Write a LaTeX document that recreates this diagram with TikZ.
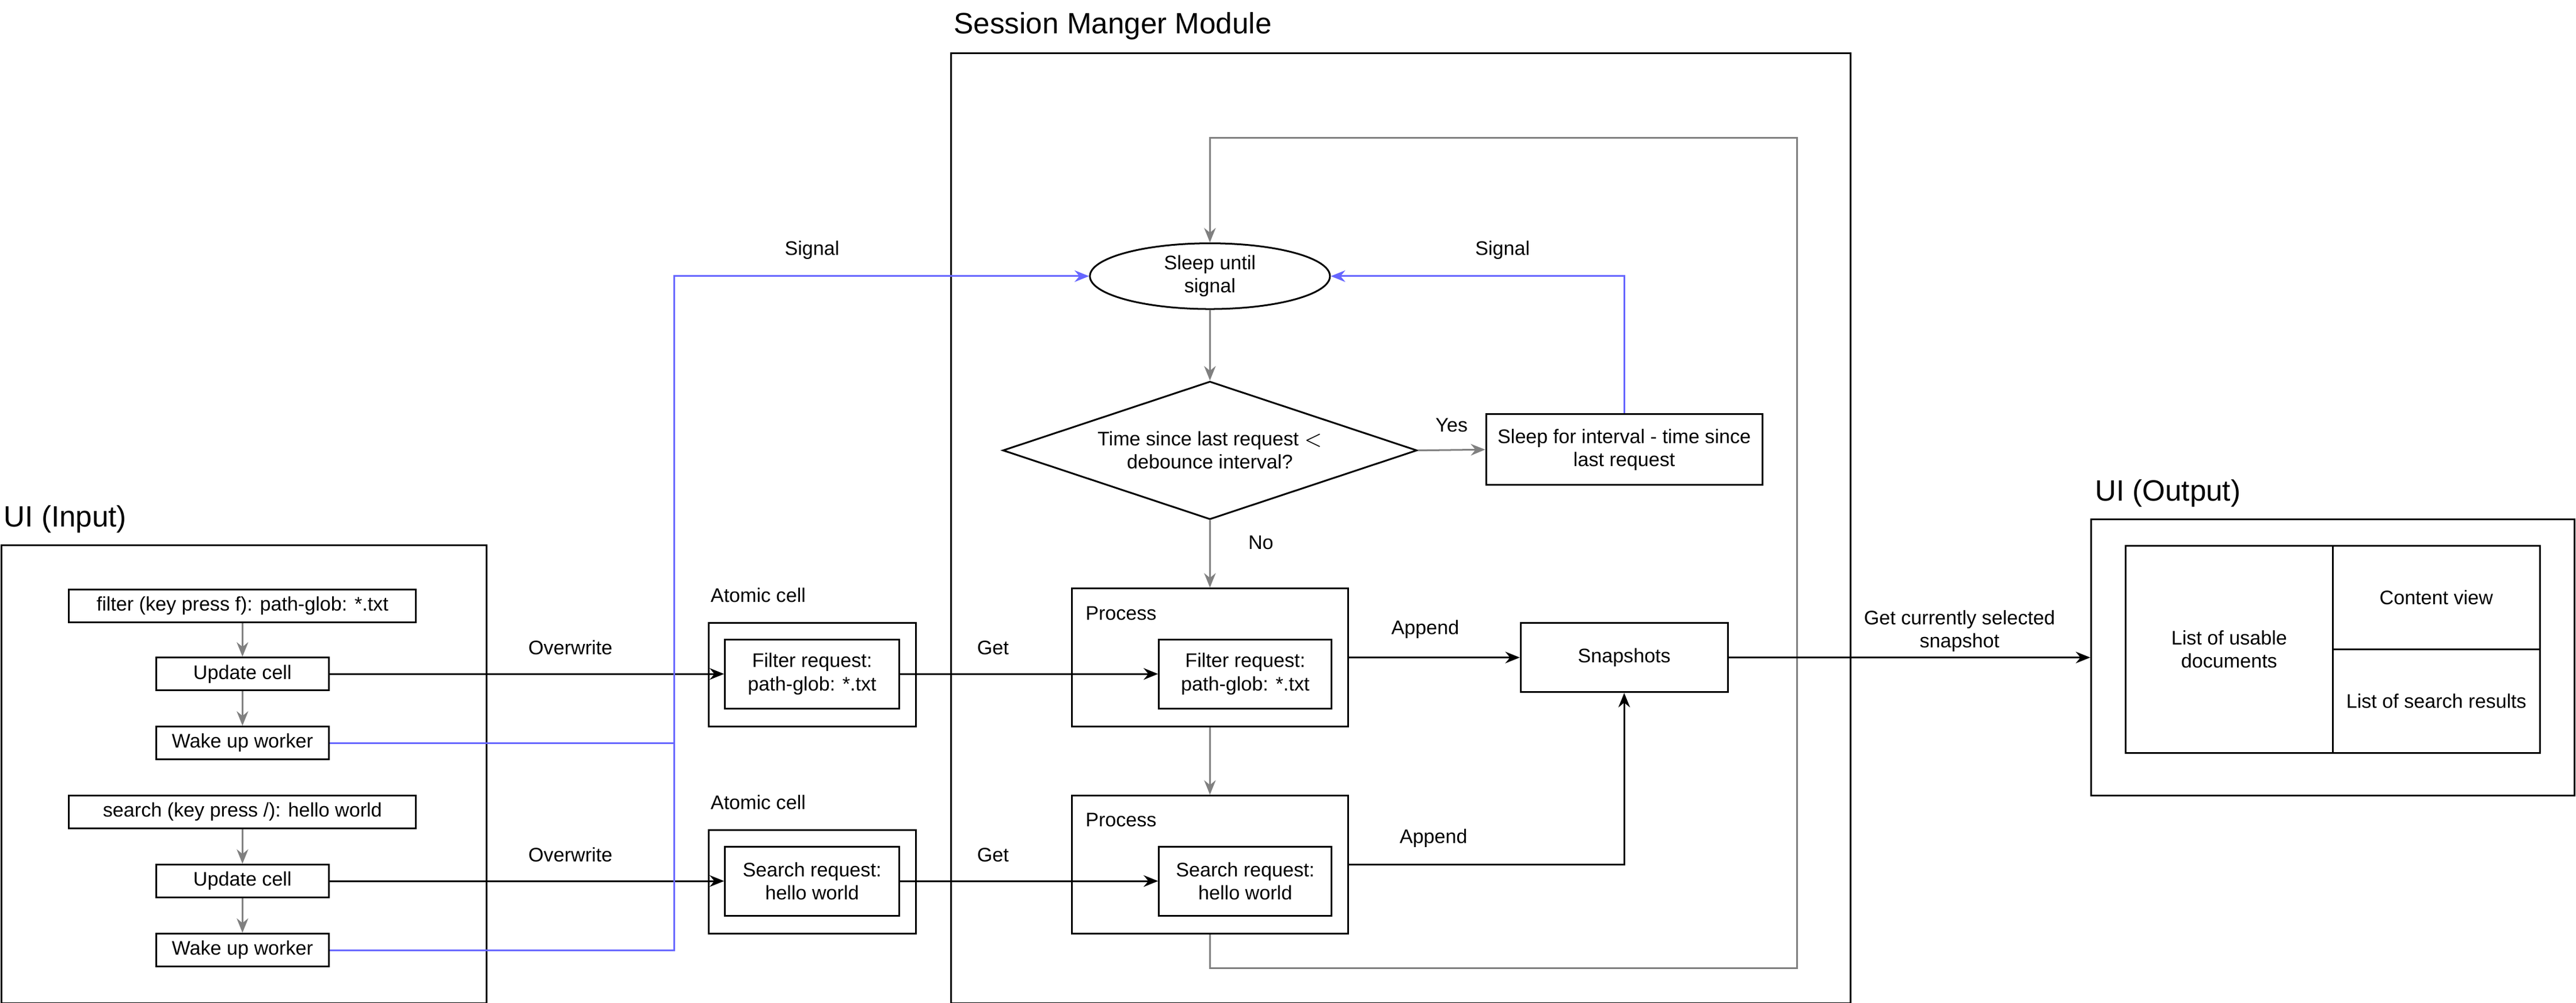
\documentclass[tikz,border=0pt]{standalone}
\usepackage{fontspec}
\setmainfont{Liberation Sans}
\usetikzlibrary{arrows.meta,shapes.geometric}
\definecolor{sig}{RGB}{102,102,255}
\definecolor{gr}{RGB}{128,128,128}
\begin{document}
\begin{tikzpicture}[x=0.02cm,y=-0.02cm,
  every node/.style={font=\fontsize{6.8}{8}\selectfont,inner sep=0pt},
  bx/.style={draw,line width=0.6pt,align=center},
  ttl/.style={font=\fontsize{10.2}{12}\selectfont,anchor=west},
  lbl/.style={anchor=center},
  ga/.style={draw=gr,line width=0.6pt,-{Stealth[length=5pt,width=4pt]}},
  ba/.style={draw=black,line width=0.6pt,-{Stealth[length=5pt,width=4pt]}},
  sa/.style={draw=sig,line width=0.6pt,-{Stealth[length=5pt,width=4pt]}},
  sl/.style={draw=sig,line width=0.6pt}]
\useasboundingbox (0,0) rectangle (1567,610);
% UI Input
\node[bx,minimum width=295*0.02cm,minimum height=279*0.02cm,anchor=north west] (uin) at (0.5,331) {};
\node[ttl] (uint) at (2,316) {UI (Input)};
\node[bx,minimum width=211*0.02cm,minimum height=20*0.02cm] (flt) at (147.5,368.5) {filter (key press f): path-glob: *.txt};
\node[bx,minimum width=105*0.02cm,minimum height=20*0.02cm] (uc1) at (147.5,410) {Update cell};
\node[bx,minimum width=105*0.02cm,minimum height=20*0.02cm] (wk1) at (147.5,452) {Wake up worker};
\node[bx,minimum width=211*0.02cm,minimum height=20*0.02cm] (src) at (147.5,494) {search (key press /): hello world};
\node[bx,minimum width=105*0.02cm,minimum height=20*0.02cm] (uc2) at (147.5,536) {Update cell};
\node[bx,minimum width=105*0.02cm,minimum height=20*0.02cm] (wk2) at (147.5,578) {Wake up worker};
\draw[ga] (flt) -- (uc1);
\draw[ga] (uc1) -- (wk1);
\draw[ga] (src) -- (uc2);
\draw[ga] (uc2) -- (wk2);
% Session manager
\node[bx,minimum width=547*0.02cm,minimum height=578*0.02cm,anchor=north west] (sm) at (578,32) {};
\node[ttl] (smt) at (580,16) {Session Manger Module};
\node[draw,ellipse,line width=0.6pt,minimum width=146*0.02cm,minimum height=40*0.02cm,align=center] (sl) at (736,168) {Sleep until\\signal};
\node[draw,diamond,aspect=3,line width=0.6pt,minimum width=252*0.02cm,minimum height=84*0.02cm,align=center,inner sep=0pt] (dm) at (736,274) {Time since last request $<$\\debounce interval?};
\node[bx,minimum width=168*0.02cm,minimum height=43*0.02cm] (sfi) at (988,273.5) {Sleep for interval - time since\\last request};
\draw[ga] (sl) -- (dm.north);
\draw[ga] (dm.east) -- (sfi.west) node[midway,above=6pt] {Yes};
\draw[sa] (sfi.north) |- (sl.east);
\node[lbl] at (914,152) {Signal};
\node[bx,minimum width=168*0.02cm,minimum height=84*0.02cm] (p1) at (736,400) {};
\node[anchor=west] at (660,373) {Process};
\node[bx,minimum width=105*0.02cm,minimum height=42*0.02cm] (fr) at (757.5,410) {Filter request:\\path-glob: *.txt};
\node[bx,minimum width=168*0.02cm,minimum height=84*0.02cm] (p2) at (736,526) {};
\node[anchor=west] at (660,499) {Process};
\node[bx,minimum width=105*0.02cm,minimum height=42*0.02cm] (sr) at (757.5,536) {Search request:\\hello world};
\draw[ga] (dm.south) -- (p1.north);
\node[lbl] at (767,330) {No};
\draw[ga] (p1.south) -- (p2.north);
\coordinate (l1) at (736,589);
\coordinate (l2) at (1093,589);
\coordinate (l3) at (1093,84);
\coordinate (l4) at (736,84);
\draw[ga] (p2.south) -- (l1) -- (l2) -- (l3) -- (l4) -- (sl.north);
% Atomic cells
\node[bx,minimum width=126*0.02cm,minimum height=63*0.02cm] (ac1) at (494,410.5) {};
\node[anchor=west] at (432,362) {Atomic cell};
\node[bx,minimum width=106*0.02cm,minimum height=42*0.02cm] (af) at (494,410) {Filter request:\\path-glob: *.txt};
\node[bx,minimum width=126*0.02cm,minimum height=63*0.02cm] (ac2) at (494,536.5) {};
\node[anchor=west] at (432,488) {Atomic cell};
\node[bx,minimum width=106*0.02cm,minimum height=42*0.02cm] (as) at (494,536) {Search request:\\hello world};
\draw[ba] (uc1.east) -- (af.west);
\node[lbl] at (347,394) {Overwrite};
\draw[ba] (uc2.east) -- (as.west);
\node[lbl] at (347,520) {Overwrite};
\draw[ba] (af.east) -- (fr.west);
\node[lbl] at (604,394) {Get};
\draw[ba] (as.east) -- (sr.west);
\node[lbl] at (604,520) {Get};
% Snapshots
\node[bx,minimum width=126*0.02cm,minimum height=42*0.02cm] (snap) at (988,400) {Snapshots};
\draw[ba] (p1.east) -- (snap.west);
\node[lbl] at (867,383) {Append};
\draw[ba] (p2.east) -| (snap.south);
\node[lbl] at (872,510) {Append};
% Blue signal
\coordinate (b1) at (410,452);
\coordinate (b2) at (410,578);
\coordinate (b3) at (410,168);
\draw[sl] (wk1.east) -- (b1);
\draw[sa] (wk2.east) -- (b2) -- (b3) -- (sl.west);
\node[lbl] at (494,152) {Signal};
% UI output
\node[bx,minimum width=294*0.02cm,minimum height=168*0.02cm] (uout) at (1419,400) {};
\node[ttl] at (1274,300) {UI (Output)};
\node[bx,minimum width=126*0.02cm,minimum height=126*0.02cm] (lud) at (1356,395) {List of usable\\documents};
\node[bx,minimum width=126*0.02cm,minimum height=63*0.02cm] (cv) at (1482,363.5) {Content view};
\node[bx,minimum width=126*0.02cm,minimum height=63*0.02cm] (lsr) at (1482,426.5) {List of search results};
\draw[ba] (snap.east) -- (uout.west);
\node[lbl,align=center] at (1192,384) {Get currently selected\\snapshot};
\end{tikzpicture}
\end{document}
